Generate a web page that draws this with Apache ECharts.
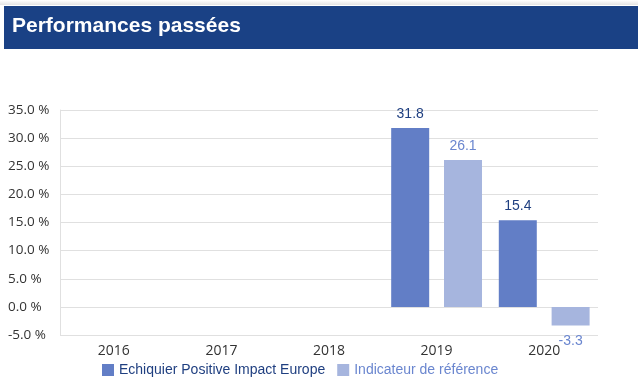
<!DOCTYPE html>
<html><head><meta charset="utf-8">
<script src="https://cdn.jsdelivr.net/npm/echarts@6/dist/echarts.min.js"></script>
<style>html,body{margin:0;padding:0;background:#fff;}#c{width:638px;height:387px;}</style>
</head><body><div id="c"></div>
<script>
var categories = ['2016', '2017', '2018', '2019', '2020'];
var fundName = 'Echiquier Positive Impact Europe';
var benchName = 'Indicateur de référence';
var fundValues = [null, null, null, 31.8, 15.4];
var benchValues = [null, null, null, 26.1, -3.3];
var yTicks = [-5, 0, 5, 10, 15, 20, 25, 30, 35];

function toData(arr) {
  return arr.map(function (v) {
    if (v === null) return null;
    return { value: v, label: v < 0 ? { position: 'bottom', distance: 9 } : { position: 'top' } };
  });
}

var chart = echarts.init(document.getElementById('c'), null, { renderer: 'canvas' });
chart.setOption({
  animation: false,
  graphic: [
    { type: 'rect', shape: { x: 0, y: 0, width: 638, height: 5 }, style: { fill: new echarts.graphic.LinearGradient(0, 0, 0, 1, [{ offset: 0, color: '#ffffff' }, { offset: 1, color: '#e4e4e4' }]) }, z: 0 },
    { type: 'rect', shape: { x: 4, y: 6, width: 634, height: 43 }, style: { fill: '#1a4185' }, z: 1 },
    { type: 'text', left: 12, top: 16, style: { text: 'Performances passées', fill: '#ffffff', font: 'bold 21px "Liberation Sans", Arial, sans-serif' }, z: 2 }
  ],
  grid: { left: 60, right: 40, top: 110, bottom: 52, containLabel: false },
  legend: {
    bottom: 5, left: 97, itemWidth: 12, itemHeight: 12, itemGap: 12,
    icon: 'rect',
    data: [
      { name: fundName, textStyle: { color: '#1f3f80' } },
      { name: benchName, textStyle: { color: '#6a86cf' } }
    ],
    textStyle: { fontSize: 14, fontFamily: '"Liberation Sans", Arial, sans-serif' }
  },
  xAxis: {
    type: 'category', data: categories,
    axisLine: { show: false }, axisTick: { show: false },
    axisLabel: { color: '#333', fontSize: 14, fontFamily: '"Open Sans", sans-serif', margin: 9 }
  },
  yAxis: {
    type: 'value', min: -5, max: 35, interval: 5,
    axisLine: { show: true, lineStyle: { color: '#e0e0e0' } },
    axisTick: { show: false },
    splitLine: { lineStyle: { color: '#e0e0e0' } },
    axisLabel: {
      color: '#333', fontSize: 13.5, fontFamily: '"Open Sans", sans-serif', align: 'left', margin: 52,
      formatter: function (v) { return yTicks.indexOf(v) >= 0 ? v.toFixed(1) + ' %' : ''; }
    }
  },
  series: [
    {
      name: fundName, type: 'bar', data: toData(fundValues), barWidth: 38, barGap: '39%',
      itemStyle: { color: '#627ec6' },
      label: { show: true, color: '#1f3f80', fontSize: 14, fontFamily: '"Liberation Sans", Arial, sans-serif', distance: 7, formatter: function (p) { return p.value.toFixed(1); } }
    },
    {
      name: benchName, type: 'bar', data: toData(benchValues), barWidth: 38,
      itemStyle: { color: '#a6b5de' },
      label: { show: true, color: '#6a86cf', fontSize: 14, fontFamily: '"Liberation Sans", Arial, sans-serif', distance: 7, formatter: function (p) { return p.value.toFixed(1); } }
    }
  ]
});
</script></body></html>
